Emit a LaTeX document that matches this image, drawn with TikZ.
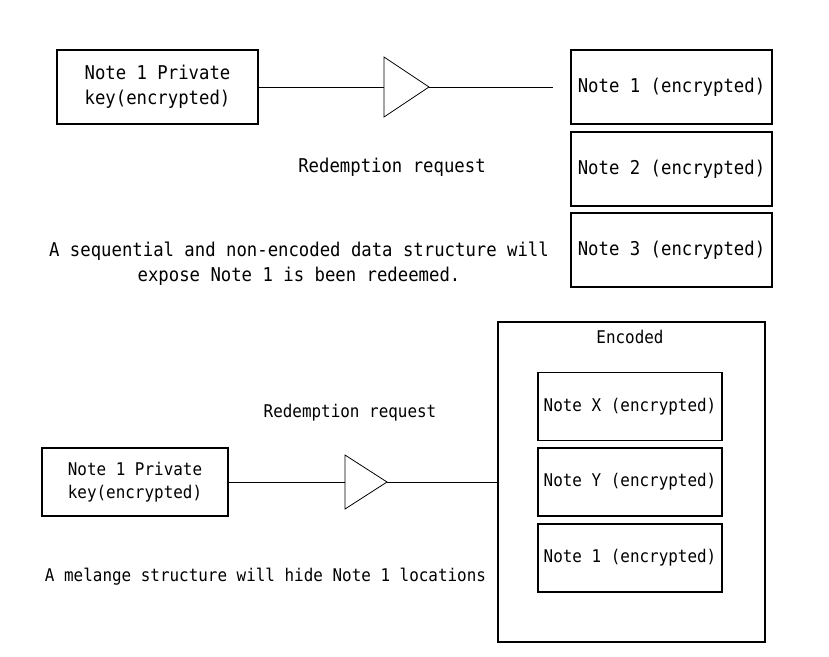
\documentclass[tikz,border=0pt]{standalone}
\usepackage{fontspec}
\newfontfamily\gothic[FakeStretch=0.91]{DejaVu Sans Mono}

\tikzset{
 bigtext/.style={font=\gothic\fontsize{19}{25}\selectfont},
 smalltext/.style={font=\gothic\fontsize{17.5}{23}\selectfont},
 bignote/.style={draw, line width=1.6pt, minimum width=201pt, minimum height=74pt, inner sep=0pt, align=center, bigtext},
 smallnote/.style={draw, line width=1.6pt, minimum height=68pt, inner sep=0pt, align=center, smalltext},
 wire/.style={line width=0.8pt}
}

\begin{document}
\begin{tikzpicture}[x=1pt, y=-1pt]
 \useasboundingbox (0,0) rectangle (829,656);

 \node[bignote] (keyA) at (157.5,87) {Note 1 Private\\key(encrypted)};
 \coordinate (gateA) at (384,87);
 \coordinate (tipA) at (429,87);
 \coordinate (endA) at (553,87);
 \node[bignote] (noteA1) at (671.5,87) {Note 1 (encrypted)};
 \node[bignote] (noteA2) at (671.5,169) {Note 2 (encrypted)};
 \node[bignote] (noteA3) at (671.5,250) {Note 3 (encrypted)};
 \node[bigtext] (reqA) at (392,167) {Redemption request};
 \node[bigtext, align=center] (textA) at (299,264) {A sequential and non-encoded data structure will\\expose Note 1 is been redeemed.};

 \draw[wire] (keyA) -- (gateA);
 \draw[wire] (gateA) -- ++(0,-30) -- (tipA) -- ++(-45,30) -- cycle;
 \draw[wire] (tipA) -- (endA);

 \node[draw, line width=1.6pt, minimum width=267pt, minimum height=320pt] (enc) at (631.5,482) {};
 \node[smalltext] (encLabel) at (630,337) {Encoded};
 \node[smallnote, minimum width=184pt] (noteBX) at (630,406.5) {Note X (encrypted)};
 \node[smallnote, minimum width=184pt] (noteBY) at (630,482) {Note Y (encrypted)};
 \node[smallnote, minimum width=184pt] (noteB1) at (630,558) {Note 1 (encrypted)};
 \node[smallnote, minimum width=186pt] (keyB) at (135,482) {Note 1 Private\\key(encrypted)};
 \coordinate (gateB) at (345,482);
 \coordinate (tipB) at (387,482);
 \node[smalltext] (reqB) at (350,413) {Redemption request};
 \node[smalltext] (textB) at (265.5,577) {A melange structure will hide Note 1 locations};

 \draw[wire] (keyB) -- (gateB);
 \draw[wire] (gateB) -- ++(0,-27) -- (tipB) -- ++(-42,27) -- cycle;
 \draw[wire] (tipB) -- (enc);
\end{tikzpicture}
\end{document}
